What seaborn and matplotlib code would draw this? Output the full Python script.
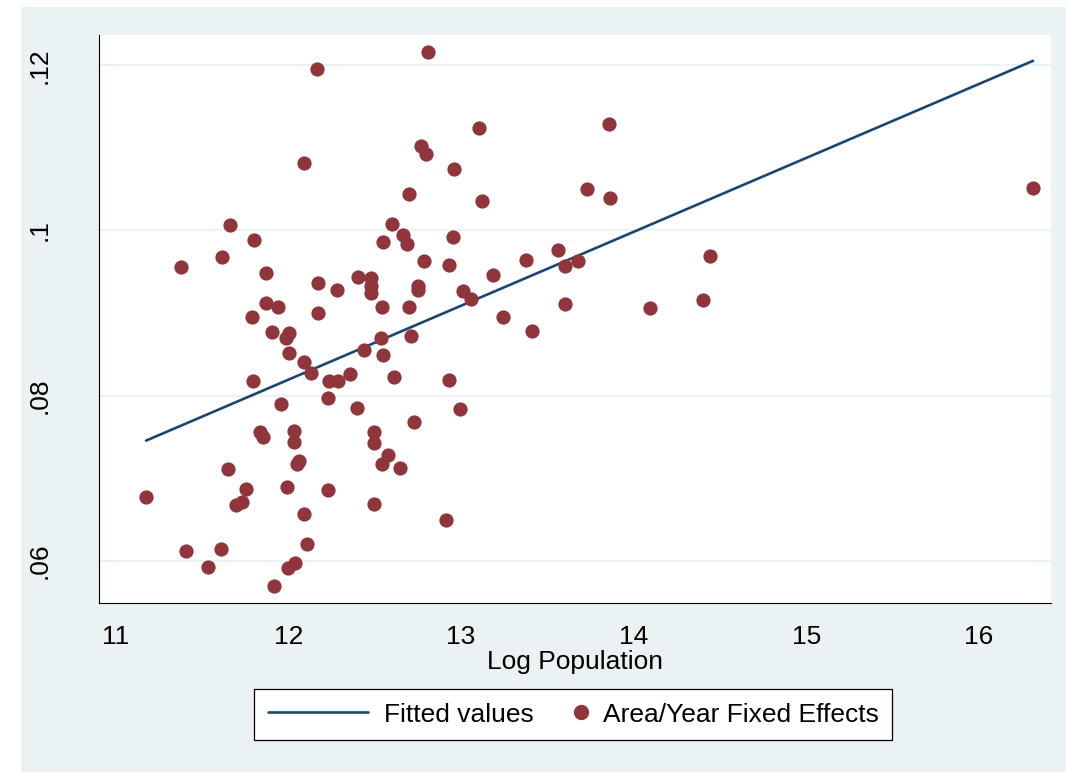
import numpy as np
import pandas as pd
import seaborn as sns
import matplotlib.pyplot as plt
from matplotlib.lines import Line2D
from matplotlib.patches import Rectangle
from matplotlib.legend_handler import HandlerLine2D

# values
log_pop = [
    12.166, 12.091, 11.662, 11.801, 11.616, 11.378, 11.871, 12.172, 12.282, 11.871,
    11.940, 11.789, 12.172, 11.905, 12.004, 11.986, 12.004, 12.091, 12.131, 12.235,
    12.288, 12.357, 11.795, 12.230, 11.957, 11.836, 11.853, 12.033, 12.033, 11.650,
    12.062, 12.050, 11.992, 12.230, 11.755, 11.697, 11.732, 11.176, 12.091, 12.108,
    11.407, 11.610, 11.535, 12.038, 11.998, 11.917, 12.809, 13.104, 12.768, 12.797,
    12.959, 12.699, 13.122, 12.600, 12.664, 12.687, 12.548, 12.954, 12.786, 12.930,
    13.562, 13.376, 13.602, 13.678, 13.185, 12.403, 12.479, 12.479, 12.479, 12.751,
    12.751, 13.012, 13.058, 13.602, 13.243, 13.411, 12.542, 12.699, 12.537, 12.710,
    12.438, 12.548, 12.612, 12.930, 12.398, 12.994, 12.728, 12.496, 12.496, 12.577,
    12.542, 12.647, 12.496, 12.913, 13.730, 13.863, 13.857, 16.313, 14.442, 14.095,
    14.402,
]
fixed_effects = [
    .1196, .1082, .1007, .0988, .0968, .0956, .0948, .0936, .0928, .0912,
    .0907, .0895, .0900, .0877, .0876, .0870, .0851, .0841, .0827, .0818,
    .0818, .0826, .0818, .0797, .0790, .0756, .0750, .0757, .0744, .0711,
    .0721, .0717, .0689, .0686, .0687, .0667, .0671, .0677, .0656, .0620,
    .0612, .0614, .0592, .0597, .0591, .0569, .1216, .1124, .1102, .1093,
    .1074, .1044, .1036, .1008, .0994, .0984, .0986, .0992, .0963, .0958,
    .0976, .0964, .0957, .0963, .0946, .0944, .0942, .0933, .0924, .0933,
    .0928, .0927, .0917, .0911, .0895, .0878, .0907, .0907, .0870, .0872,
    .0855, .0849, .0822, .0819, .0785, .0784, .0768, .0756, .0742, .0728,
    .0717, .0712, .0669, .0649, .1050, .1039, .1129, .1051, .0969, .0906,
    .0916,
]

x_ticks = [11, 12, 13, 14, 15, 16]
y_ticks = [0.06, 0.08, 0.10, 0.12]
y_tick_labels = ['.06', '.08', '.1', '.12']

navy = '#1A476F'
maroon = '#90353B'
bg = '#EAF2F3'

df = pd.DataFrame({'log_pop': log_pop, 'fe': fixed_effects})

sns.set_style('white')
plt.rcParams['font.family'] = ['Liberation Sans', 'DejaVu Sans']
plt.rcParams['text.color'] = 'black'
plt.rcParams['axes.labelcolor'] = 'black'

fig = plt.figure(figsize=(10.66, 7.72), dpi=100, facecolor='white')
fig.patches.append(Rectangle((21 / 1066, 0), 1 - 21 / 1066, 1 - 7 / 772,
                             transform=fig.transFigure, facecolor=bg,
                             edgecolor='none', zorder=-10))
ax = fig.add_axes([0.0931, 0.2185, 0.8925, 0.7365])
ax.set_facecolor('white')

# line first, markers on top (as in the original)
sns.regplot(data=df, x='log_pop', y='fe', scatter=False, ci=None, truncate=True,
            color=navy, line_kws={'lw': 1.9, 'zorder': 2}, ax=ax)
sns.scatterplot(data=df, x='log_pop', y='fe', color=maroon, s=105, linewidth=0,
                ax=ax, zorder=3, legend=False)

ax.set_xlim(10.905, 16.415)
ax.set_ylim(0.05484, 0.12371)
ax.set_xticks(x_ticks)
ax.set_yticks(y_ticks, y_tick_labels, rotation=90, va='center')
ax.set_xlabel('Log Population', fontsize=19, labelpad=0.5, color='black')
ax.set_ylabel('')

ax.yaxis.grid(True, color=bg, lw=1.5)
ax.xaxis.grid(False)
ax.set_axisbelow(True)
for side in ['top', 'right']:
    ax.spines[side].set_visible(False)
for side in ['left', 'bottom']:
    ax.spines[side].set_color('black')
    ax.spines[side].set_linewidth(0.8)
ax.tick_params(axis='x', length=8, width=0.8, color='#444444', labelcolor='black',
               labelsize=19, pad=7.5)
ax.tick_params(axis='y', length=8, width=0.8, color='#444444', labelcolor='black',
               labelsize=19, pad=26.5)

handles = [Line2D([], [], color=navy, lw=1.9),
           Line2D([], [], ls='none', marker='o', ms=10, color=maroon, mec=maroon)]
leg = fig.legend(handles, ['Fitted values', 'Area/Year Fixed Effects'], ncol=2,
                 loc='center', bbox_to_anchor=(0.5375, 1 - 714.5 / 772),
                 frameon=True, fancybox=False, edgecolor='black', facecolor='white',
                 framealpha=1, fontsize=19, handlelength=3.8, handletextpad=0.6,
                 columnspacing=-1.78, borderpad=0.5, labelcolor='black',
                 handler_map={handles[1]: HandlerLine2D(numpoints=1, xpad=3.34)})
leg.get_frame().set_linewidth(0.9)

fig.savefig('out.png', dpi=100, facecolor=fig.get_facecolor())
